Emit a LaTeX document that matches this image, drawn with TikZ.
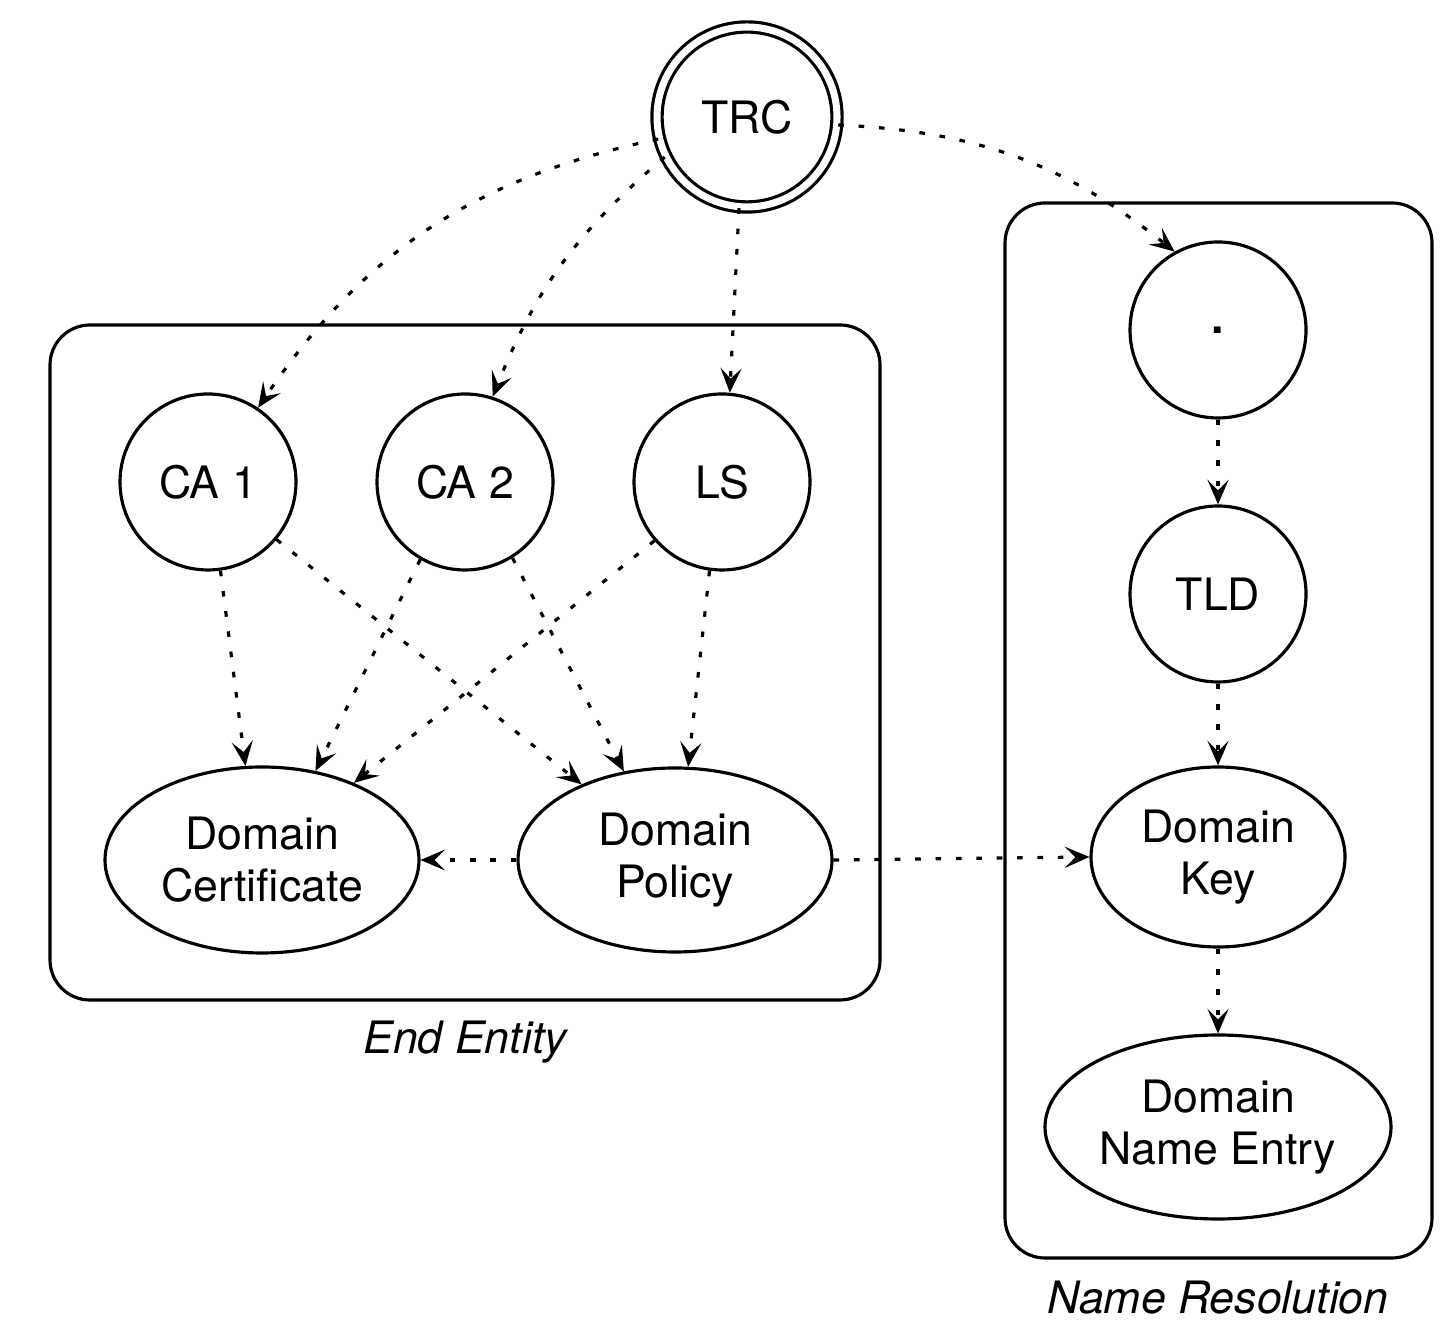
\documentclass[tikz,border=0pt]{standalone}
\usepackage{fontspec}
\setmainfont{TeX Gyre Heros}
\usepackage{tikz}
\usetikzlibrary{arrows.meta, shapes.geometric}
\tikzset{>={Stealth[length=7pt, width=6pt, inset=3pt]}}
\tikzset{
  ent/.style = {draw, circle, line width=0.9pt, minimum size=1.76cm, inner sep=0pt, font=\fontsize{12.7}{14.8}\selectfont},
  obj/.style = {draw, ellipse, line width=0.9pt, inner sep=0pt, align=center, font=\fontsize{12.7}{14.8}\selectfont},
  dep/.style = {->, line width=0.9pt, dash pattern=on 1.6pt off 4.2pt},
  grp/.style = {draw, line width=0.9pt, rounded corners=0.4cm}
}

\begin{document}
\begin{tikzpicture}
\useasboundingbox (0,0) rectangle (14.5,13.2);
\node[ent, double, double distance=2pt, minimum size=1.80cm] (trc) at (7.47, 12.03) {TRC};
\begin{scope}
\draw[grp] (0.50, 3.20) rectangle (8.80, 9.95);
\node[ent] (ca1) at (2.08, 8.38) {CA 1};
\node[ent] (ca2) at (4.65, 8.38) {CA 2};
\node[ent] (ls) at (7.22, 8.38) {LS};
\node[obj, minimum width=3.14cm, minimum height=1.86cm] (dc) at (2.62, 4.60) {Domain\\Certificate};
\node[obj, minimum width=3.14cm, minimum height=1.84cm] (dp) at (6.75, 4.60) {Domain\\Policy};
\node[font=\fontsize{12.7}{14.8}\selectfont\itshape] (ee) at (4.65, 2.78) {End Entity};
\end{scope}
\begin{scope}
\draw[grp] (10.05, 0.62) rectangle (14.32, 11.17);
\node[ent] (root) at (12.18, 9.90) {\textbf{.}};
\node[ent] (tld) at (12.18, 7.26) {TLD};
\node[obj, minimum width=2.54cm, minimum height=1.80cm] (dk) at (12.18, 4.63) {Domain\\Key};
\node[obj, minimum width=3.46cm, minimum height=1.84cm] (dne) at (12.18, 1.93) {Domain\\Name Entry};
\node[font=\fontsize{12.7}{14.8}\selectfont\itshape] (nr) at (12.18, 0.22) {Name Resolution};
\end{scope}
\draw[dep] (trc.194) to[bend right=22] (ca1.56);
\draw[dep] (trc.206) to[bend right=14] (ca2.72);
\draw[dep] (trc.265) -- (ls.85);
\draw[dep] (trc.-5) to[bend left=18] (root.119);
\draw[dep] (ca1.278) -- (dc.100);
\draw[dep] (ca1.320) -- (dp.141);
\draw[dep] (ca2.240) -- (dc.59);
\draw[dep] (ca2.302) -- (dp.120);
\draw[dep] (ls.221) -- (dc.40);
\draw[dep] (ls.262) -- (dp.82);
\draw[dep] (dp.west) -- (dc.east);
\draw[dep] (dp.east) -- (dk.west);
\draw[dep] (root.south) -- (tld.north);
\draw[dep] (tld.south) -- (dk.north);
\draw[dep] (dk.south) -- (dne.north);
\end{tikzpicture}
\end{document}
